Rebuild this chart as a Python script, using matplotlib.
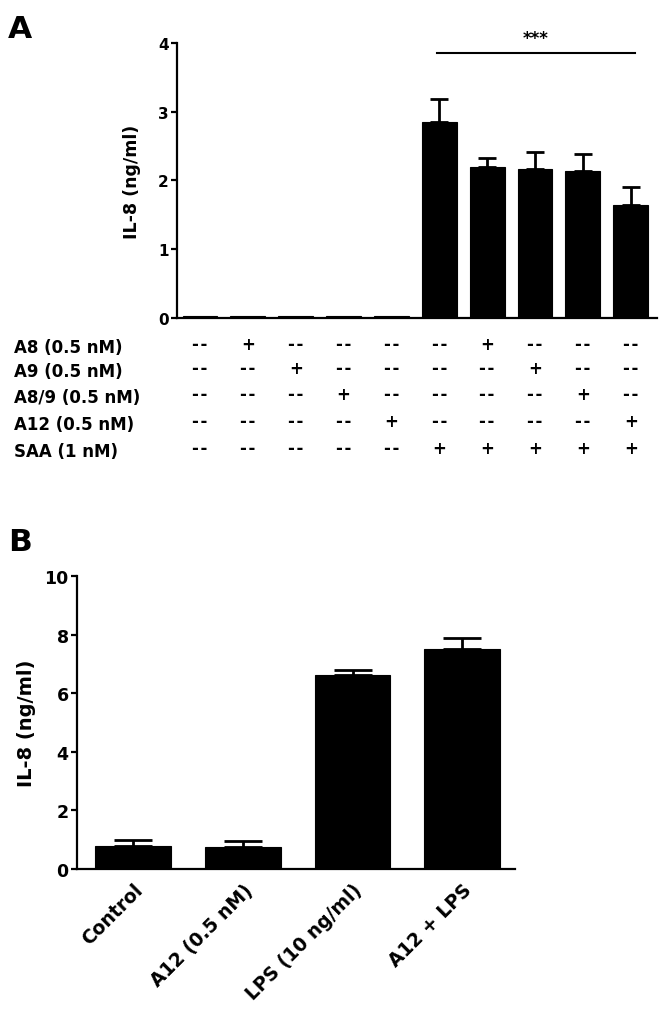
import matplotlib
matplotlib.use("Agg")
import matplotlib.pyplot as plt
import numpy as np

plt.rcParams['font.family'] = ['DejaVu Sans']
plt.rcParams['font.weight'] = 'bold'

# Panel A: IL-8 release with S100 proteins +/- SAA
a_means = [0.03, 0.03, 0.03, 0.03, 0.03, 2.85, 2.19, 2.16, 2.14, 1.64]
a_errs = [0.0, 0.0, 0.0, 0.0, 0.0, 0.33, 0.14, 0.25, 0.24, 0.26]
treat_names = ['A8 (0.5 nM)', 'A9 (0.5 nM)', 'A8/9 (0.5 nM)', 'A12 (0.5 nM)', 'SAA (1 nM)']
treat_matrix = [
    [0, 1, 0, 0, 0, 0, 1, 0, 0, 0],
    [0, 0, 1, 0, 0, 0, 0, 1, 0, 0],
    [0, 0, 0, 1, 0, 0, 0, 0, 1, 0],
    [0, 0, 0, 0, 1, 0, 0, 0, 0, 1],
    [0, 0, 0, 0, 0, 1, 1, 1, 1, 1],
]
sig_groups = (5, 9)
sig_level = 3.86
sig_text = '***'

# Panel B: IL-8 release with A12 +/- LPS
b_labels = ['Control', 'A12 (0.5 nM)', 'LPS (10 ng/ml)', 'A12 + LPS']
b_means = [0.77, 0.74, 6.62, 7.51]
b_errs = [0.23, 0.21, 0.17, 0.37]

fig = plt.figure(figsize=(6.64, 10.2), dpi=100)


def style_axis(ax, ticksize):
    ax.spines['top'].set_visible(False)
    ax.spines['right'].set_visible(False)
    ax.spines['left'].set_linewidth(1.6)
    ax.spines['bottom'].set_linewidth(1.6)
    ax.tick_params(axis='y', direction='out', length=4, width=1.6, labelsize=ticksize, pad=2)
    ax.tick_params(axis='x', length=0)
    for lab in ax.get_yticklabels():
        lab.set_fontweight('bold')


# ---- Panel A ----
axA = fig.add_axes([0.2666, 0.6873, 0.7229, 0.2696])
xa = np.arange(len(a_means))
axA.bar(xa, a_means, width=0.73, color='black', edgecolor='black', linewidth=0.8, zorder=2)
axA.errorbar(xa[5:], a_means[5:], yerr=[np.zeros(5), a_errs[5:]], fmt='none',
             ecolor='black', elinewidth=2, capsize=6.5, capthick=2, zorder=1)
axA.set_xlim(-0.48, 9.55)
axA.set_ylim(0, 4)
axA.set_yticks([0, 1, 2, 3, 4])
axA.set_xticks([])
style_axis(axA, 11)
axA.set_ylabel('IL-8 (ng/ml)', fontsize=12.5, fontweight='bold', labelpad=12)

# significance bar
axA.plot([sig_groups[0] - 0.05, sig_groups[1] + 0.1], [sig_level, sig_level],
         color='black', lw=1.5, clip_on=False)
axA.text((sig_groups[0] + sig_groups[1]) / 2 + 0.02, sig_level + 0.08, sig_text,
         ha='center', va='bottom', fontsize=12, fontweight='bold')

# treatment table below panel A
row_y = [348, 372, 398, 425, 452]
for name, ypix, row in zip(treat_names, row_y, treat_matrix):
    yfig = 1 - ypix / 1020
    fig.text(0.021, yfig, name, ha='left', va='center', fontsize=12, fontweight='bold')
    for i, flag in enumerate(row):
        xfig = axA.transData.transform((xa[i], 0))[0] / fig.bbox.width
        sym = '+' if flag else '-\u200a-'
        fig.text(xfig, yfig + 0.003, sym, ha='center', va='center', fontsize=12, fontweight='bold')

fig.text(0.012, 0.985, 'A', ha='left', va='top', fontsize=22.5, fontweight='bold')

# ---- Panel B ----
axB = fig.add_axes([0.116, 0.1471, 0.6596, 0.2873])
xb = np.arange(len(b_means))
axB.bar(xb, b_means, width=0.69, color='black', edgecolor='black', linewidth=0.8, zorder=2)
axB.errorbar(xb, b_means, yerr=[np.zeros(len(b_errs)), b_errs], fmt='none',
             ecolor='black', elinewidth=2, capsize=13.5, capthick=2, zorder=1)
axB.set_xlim(-0.51, 3.48)
axB.set_ylim(0, 10)
axB.set_yticks([0, 2, 4, 6, 8, 10])
axB.set_xticks(xb)
axB.set_xticklabels(b_labels, rotation=45, ha='right', rotation_mode='anchor',
                    fontsize=13.5, fontweight='bold')
style_axis(axB, 12.5)
axB.tick_params(axis='x', pad=8)
axB.set_ylabel('IL-8 (ng/ml)', fontsize=14, fontweight='bold', labelpad=6)

fig.text(0.012, 0.482, 'B', ha='left', va='top', fontsize=22.5, fontweight='bold')

fig.savefig('out.png', dpi=100)
